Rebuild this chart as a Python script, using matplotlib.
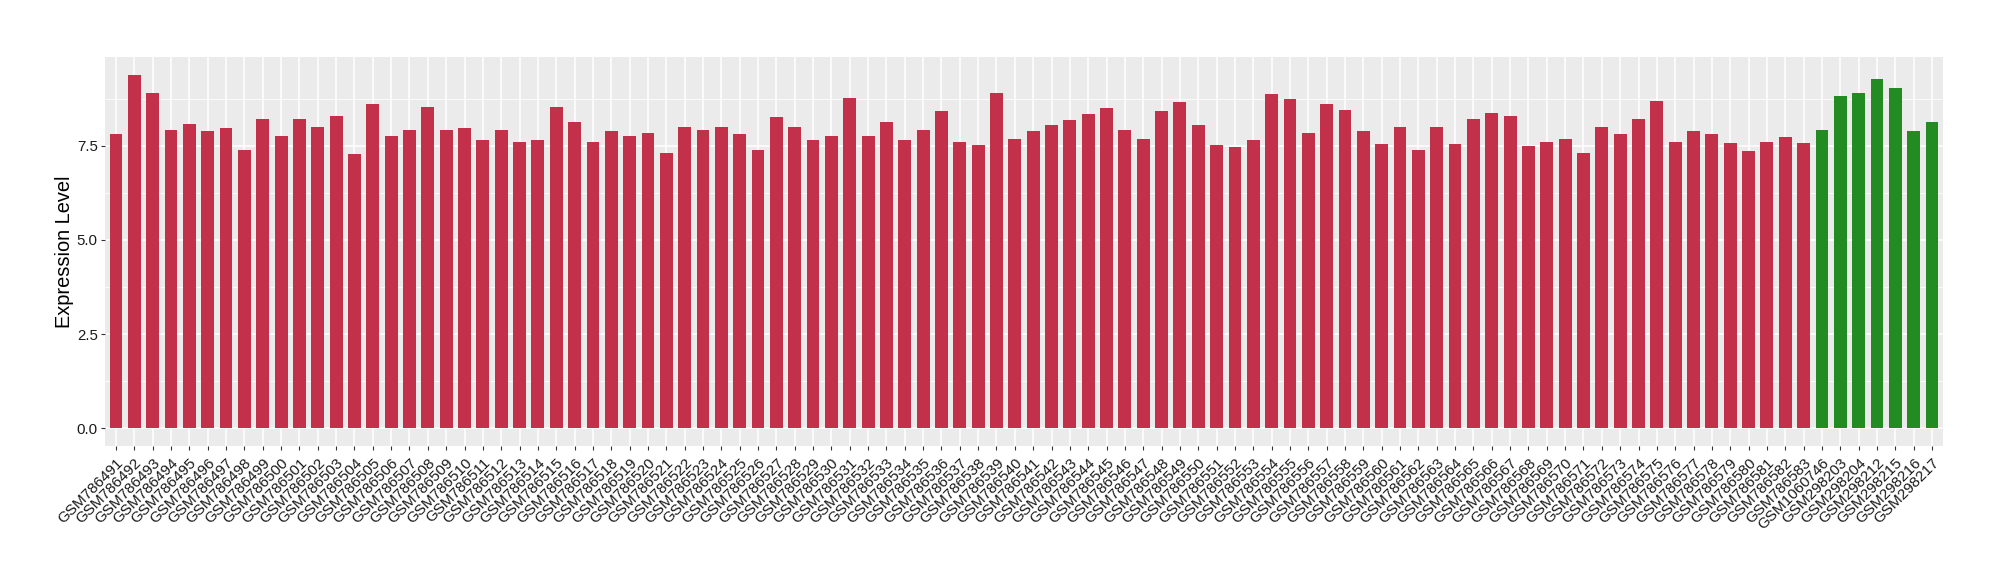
import numpy as np
import matplotlib
matplotlib.use("Agg")
from matplotlib import pyplot as plt

plt.rcParams['font.family'] = ['Liberation Sans', 'DejaVu Sans']

# samples: GSM786491..GSM786583, then the second group
samples_a = ["GSM%d" % n for n in range(786491, 786584)]
samples_b = ["GSM1060746", "GSM298203", "GSM298204", "GSM298212",
             "GSM298215", "GSM298216", "GSM298217"]

values_a = [7.80, 9.39, 8.89, 7.91, 8.09, 7.88, 7.98, 7.40, 8.20, 7.77,
            8.22, 7.99, 8.30, 7.27, 8.62, 7.75, 7.93, 8.54, 7.93, 7.96,
            7.64, 7.93, 7.59, 7.64, 8.54, 8.12, 7.61, 7.88, 7.77, 7.83,
            7.30, 8.01, 7.91, 7.99, 7.80, 7.38, 8.25, 7.99, 7.64, 7.77,
            8.78, 7.75, 8.12, 7.64, 7.91, 8.41, 7.61, 7.51, 8.91, 7.67,
            7.88, 8.04, 8.17, 8.33, 8.49, 7.93, 7.69, 8.41, 8.65, 8.04,
            7.51, 7.46, 7.64, 8.86, 8.75, 7.85, 8.60, 8.46, 7.88, 7.54,
            8.01, 7.38, 7.99, 7.54, 8.20, 8.38, 8.30, 7.48, 7.59, 7.67,
            7.30, 8.01, 7.80, 8.22, 8.70, 7.59, 7.88, 7.80, 7.56, 7.35,
            7.61, 7.72, 7.56]
values_b = [7.93, 8.81, 8.91, 9.26, 9.02, 7.88, 8.12]

labels = samples_a + samples_b
values = values_a + values_b
colors = ["#C3304A"] * len(values_a) + ["#228B22"] * len(values_b)

fig = plt.figure(figsize=(20, 5.8), dpi=100)
ax = fig.add_axes([0.0525, 0.231, 0.919, 0.671])
ax.set_facecolor("#EBEBEB")

x = np.arange(len(labels))
ax.bar(x, values, width=0.7, color=colors, zorder=3)

ymax = max(values)
ax.set_ylim(-0.05 * ymax, 1.05 * ymax)
ax.set_xlim(-0.6, len(labels) - 1 + 0.6)

ax.set_yticks([0, 2.5, 5.0, 7.5])
ax.set_yticklabels(["0.0", "2.5", "5.0", "7.5"])
ax.set_yticks([1.25, 3.75, 6.25, 8.75], minor=True)
ax.set_xticks(x)
ax.set_xticklabels(labels, rotation=45, ha="right", va="top",
                   rotation_mode="anchor", fontsize=11, color="#1A1A1A")

ax.grid(which="major", color="white", linewidth=1.1, zorder=0)
ax.grid(which="minor", axis="y", color="white", linewidth=0.55, zorder=0)
ax.set_axisbelow(True)

for s in ax.spines.values():
    s.set_visible(False)
ax.tick_params(axis="both", which="major", length=3.2, width=0.8,
               color="#333333", labelcolor="#1A1A1A", pad=2)
ax.tick_params(axis="y", labelsize=10.8)
ax.tick_params(axis="x", pad=4)
ax.tick_params(axis="y", which="minor", length=0)

ax.set_ylabel("Expression Level", fontsize=14.4, labelpad=2)

plt.savefig("out.png", dpi=100)
